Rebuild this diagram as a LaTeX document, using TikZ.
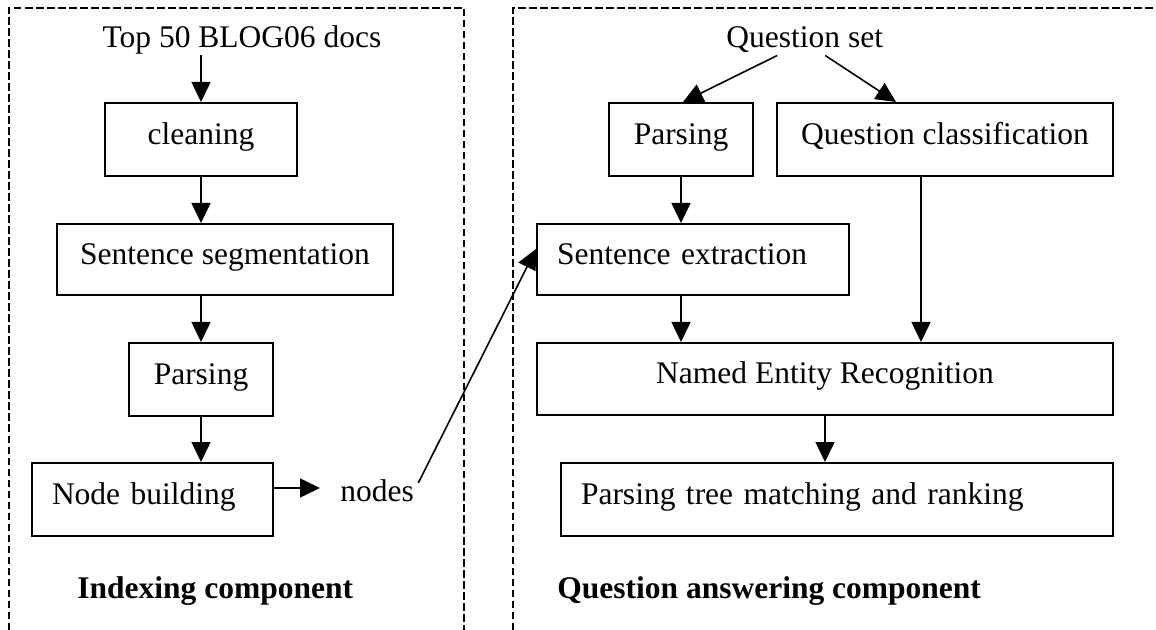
\documentclass[tikz,border=0pt]{standalone}
\usepackage{fontspec}
\setmainfont{Liberation Serif}
\usetikzlibrary{arrows.meta,calc}
\begin{document}
\begin{tikzpicture}[x=0.5pt,y=-0.5pt,
  every node/.style={font=\fontsize{15.75pt}{18pt}\selectfont},
  box/.style={draw,line width=1pt,inner sep=0pt,text height=10.2pt,text depth=5.5pt,align=center},
  lbox/.style={box,align=left,inner xsep=10pt},
  lbl/.style={inner sep=0pt},
  bold/.style={font=\fontsize{15.75pt}{18pt}\selectfont\bfseries},
  arr/.style={line width=0.8pt,-{Triangle[length=10pt,width=9.5pt]}},
  frame/.style={line width=0.7pt,dash pattern=on 3.75pt off 1.75pt}]

\useasboundingbox (0,0) rectangle (1156,630);

% frames
\draw[frame] (9,630) -- (9,8) -- (464,8) -- (464,630);
\draw[frame] (513,630) -- (513,8) -- (1156,8);

% indexing component
\node[lbl,anchor=base] (top) at (242,48) {Top 50 BLOG06 docs};
\node[box,minimum width=96pt,minimum height=36.5pt] (cl) at (201,139.5) {cleaning};
\node[box,minimum width=168pt,minimum height=35.5pt] (ss) at (225,259.5) {Sentence segmentation};
\node[box,minimum width=72pt,minimum height=36.5pt] (lp) at (201,379.5) {Parsing};
\node[lbox,text width=100.5pt,minimum height=36.5pt] (nb) at (152.5,499.5) {Node building};
\node[lbl,anchor=base west] (nodes) at (340,502) {nodes};
\node[lbl,bold,anchor=base west] (ic) at (77,598) {Indexing component};

% question answering component
\node[lbl,anchor=base west] (qs) at (726,48) {Question set};
\node[box,minimum width=72pt,minimum height=36.5pt] (rp) at (681,139.5) {Parsing};
\node[box,minimum width=168pt,minimum height=36.5pt] (qc) at (945,139.5) {Question classification};
\node[lbox,text width=136pt,minimum height=35.5pt] (se) at (693,259.5) {Sentence extraction};
\node[box,minimum width=288pt,minimum height=36pt] (ner) at (825,379) {Named Entity Recognition};
\node[lbox,text width=256pt,minimum height=36.5pt] (ptm) at (837,499.5) {Parsing tree matching and ranking};
\node[lbl,bold,anchor=base west] (qac) at (557,598) {Question answering component};

% connectors
\draw[arr] (top.south -| cl.north) -- (cl.north);
\draw[arr] (cl.south) -- (cl.south |- ss.north);
\draw[arr] (ss.south -| lp.north) -- (lp.north);
\draw[arr] (lp.south) -- (lp.south |- nb.north);
\draw[arr] ([yshift=5.75pt]nb.east) -- ($([yshift=5.75pt]nb.east -| nodes.west)+(-20,0)$);
\draw[arr] ([xshift=2pt,yshift=4.15pt]nodes.east) -- ([yshift=5.25pt]se.west);

\draw[arr] ([xshift=-13.75pt,yshift=-1pt]qs.south) -- ([xshift=1pt]rp.north);
\draw[arr] ([xshift=10.25pt,yshift=-1pt]qs.south) -- ([xshift=-24.5pt]qc.north);
\draw[arr] (rp.south) -- (rp.south |- se.north);
\draw[arr] (se.south -| rp.south) -- (ner.north -| rp.south);
\draw[arr] ([xshift=-12pt]qc.south) -- ([xshift=-12pt]qc.south |- ner.north);
\draw[arr] (ner.south) -- (ner.south |- ptm.north);
\end{tikzpicture}
\end{document}
